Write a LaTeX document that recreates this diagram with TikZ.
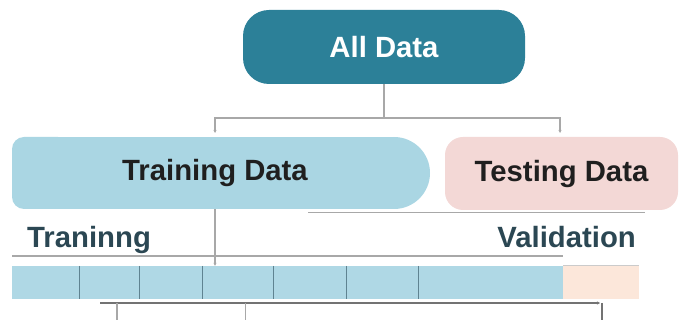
\documentclass[tikz,border=0pt]{standalone}
\usepackage{fontspec}
\setmainfont{Liberation Sans}
\usetikzlibrary{arrows.meta}
\definecolor{tealc}{HTML}{2C8098}
\definecolor{trainblue}{HTML}{AAD6E3}
\definecolor{barblue}{HTML}{AFD8E5}
\definecolor{testpink}{HTML}{F3D8D6}
\definecolor{peach}{HTML}{FCE7DA}
\definecolor{linegray}{HTML}{A8A8A8}
\definecolor{divc}{HTML}{5F8391}
\definecolor{labelc}{HTML}{2B4753}
\begin{document}
\begin{tikzpicture}[x=1pt,y=-1pt,
  big/.style={font=\fontsize{29.3}{33}\selectfont\bfseries, inner sep=0pt},
  conn/.style={draw=linegray, line width=1.4pt},
  arr/.style={conn, -{Stealth[length=3pt,width=3pt]}},
  divider/.style={draw=divc, line width=0.9pt}]
\useasboundingbox (0,0) rectangle (699,320);
% All Data
\node[big, fill=tealc, text=white, rounded corners=26, minimum width=282pt, minimum height=74pt] (all) at (384,47) {All Data};
% Training Data shape
\fill[trainblue, rounded corners=12] (70,137) -- (12,137) -- (12,209) -- (70,209) -- cycle;
\fill[trainblue] (50,137) rectangle (394,209);
\fill[trainblue] (394,173) circle (36);
\node[big, text=black!88, minimum width=418pt, minimum height=72pt] (train) at (221,173) {\hspace*{-12pt}Training Data};
% Testing Data
\node[big, fill=testpink, text=black!88, rounded corners=18, minimum width=233pt, minimum height=73pt] (test) at (561.5,173.5) {Testing Data};
% split connectors
\coordinate (split) at (384,118);
\coordinate (tl) at (215,133);
\coordinate (tr) at (560,133);
\draw[conn] (all.south) -- (split);
\draw[arr] (split) -| (tl);
\draw[arr] (split) -| (tr);
% line under testing
\coordinate (ul1) at (308,213);
\coordinate (ul2) at (645,213);
\draw[conn, line width=1pt] (ul1) -- (ul2);
% labels
\node[big, text=labelc, anchor=base west] (trlab) at (27,248) {Traninng};
\node[big, text=labelc, anchor=base east] (valab) at (636,248) {Validation};
% line under labels
\coordinate (ll1) at (12,256);
\coordinate (ll2) at (563,256);
\draw[conn, line width=1.2pt] (ll1) -- (ll2);
\draw[draw=linegray!60, line width=0.8pt] (563,265) -- (639,265);
% bar
\node[fill=barblue, inner sep=0pt, minimum width=551pt, minimum height=33pt] (bar) at (287.5,282.5) {};
\node[fill=peach, inner sep=0pt, minimum width=76pt, minimum height=33pt] (val) at (601,282.5) {};
\foreach \xx in {79,139,202,273,346,418} {
  \draw[divider] (\xx,266) -- (\xx,299);
}
% training to bar
\draw[arr] (train.south -| tl) -- (tl |- bar.north);
% bottom lines
\coordinate (b1) at (100,303);
\coordinate (b2) at (600,303);
\draw[arr, draw=black!55, line width=1.2pt] (b1) -- (b2);
\draw[conn, line width=1.2pt] (117,303) -- (117,320);
\draw[conn, line width=1pt] (245,303) -- (245,320);
\draw[conn, draw=black!55, line width=1.2pt] (602,303) -- (602,320);
\end{tikzpicture}
\end{document}
